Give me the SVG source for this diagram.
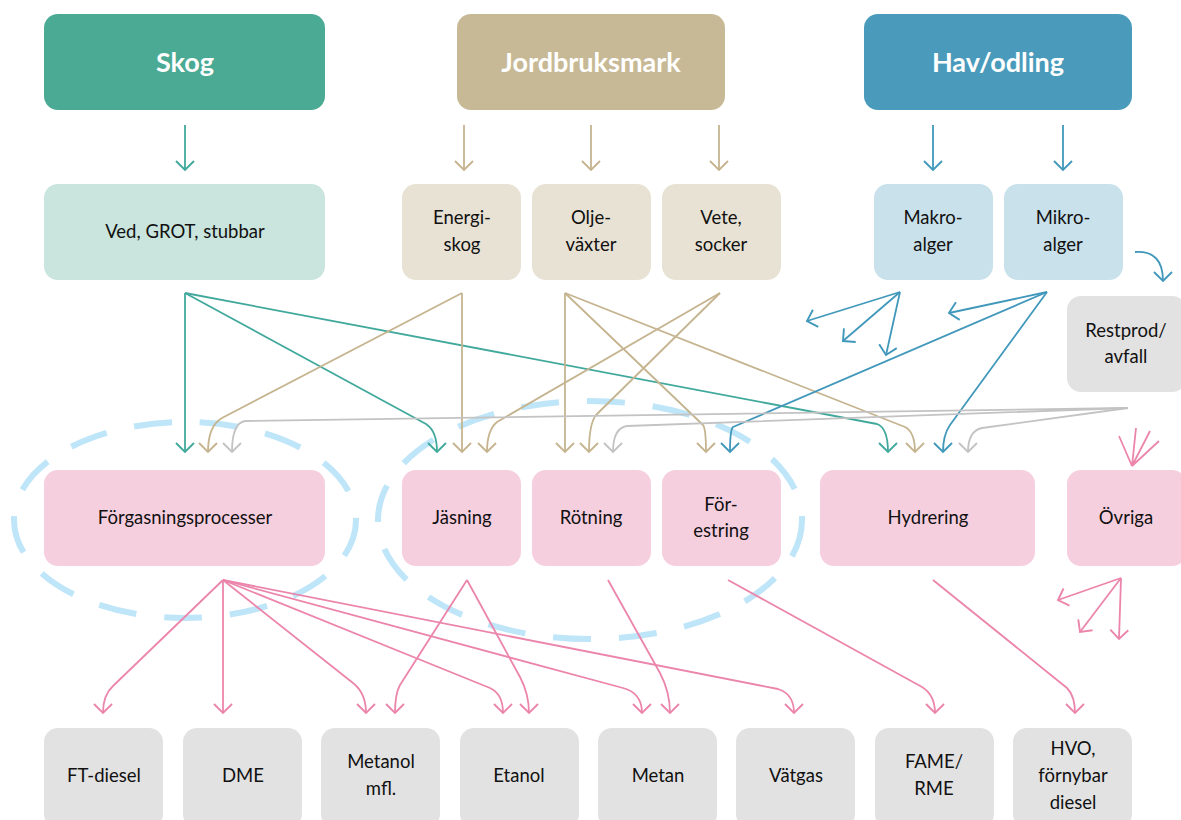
<svg xmlns="http://www.w3.org/2000/svg" width="1181" height="820" viewBox="0 0 1181 820">
<style>
text{font-family:Lato,"Open Sans","Liberation Sans",sans-serif;text-anchor:middle;fill:#111;font-size:18.5px}
.t{font-weight:bold;font-size:27px;fill:#fff}
.c{fill:none;stroke-width:1.8;stroke-linejoin:round}
.teal{stroke:#41a99c}.tan{stroke:#c5b48f}.blue{stroke:#4198bb}.gray{stroke:#c3c3c3}.pink{stroke:#ec85ab}
.ell{fill:none;stroke:#bfe5f9;stroke-width:6;stroke-dasharray:38 28}
</style>
<defs>
<marker id="mTeal" markerUnits="userSpaceOnUse" markerWidth="24" markerHeight="24" refX="0" refY="0" viewBox="-12 -12 24 24" orient="auto"><path d="M-9,-9L0,0L-9,9" fill="none" stroke="#41a99c" stroke-width="1.9"/></marker>
<marker id="mTan" markerUnits="userSpaceOnUse" markerWidth="24" markerHeight="24" refX="0" refY="0" viewBox="-12 -12 24 24" orient="auto"><path d="M-9,-9L0,0L-9,9" fill="none" stroke="#c5b48f" stroke-width="1.9"/></marker>
<marker id="mBlue" markerUnits="userSpaceOnUse" markerWidth="24" markerHeight="24" refX="0" refY="0" viewBox="-12 -12 24 24" orient="auto"><path d="M-9,-9L0,0L-9,9" fill="none" stroke="#4198bb" stroke-width="1.9"/></marker>
<marker id="mGray" markerUnits="userSpaceOnUse" markerWidth="24" markerHeight="24" refX="0" refY="0" viewBox="-12 -12 24 24" orient="auto"><path d="M-9,-9L0,0L-9,9" fill="none" stroke="#c3c3c3" stroke-width="1.9"/></marker>
<marker id="mPink" markerUnits="userSpaceOnUse" markerWidth="24" markerHeight="24" refX="0" refY="0" viewBox="-12 -12 24 24" orient="auto"><path d="M-9,-9L0,0L-9,9" fill="none" stroke="#ec85ab" stroke-width="1.9"/></marker>
</defs>
<rect width="1181" height="820" fill="#fff"/>
<g id="groups">
<ellipse class="ell" cx="185" cy="520" rx="171" ry="98"/>
<ellipse class="ell" cx="590" cy="520" rx="212" ry="119"/>
</g>
<g id="skog"><rect x="44" y="14" width="281" height="96" rx="14" fill="#4baa93"/><text class="t" x="185" y="72">Skog</text></g>
<g id="jordbruksmark"><rect x="457" y="14" width="268" height="96" rx="14" fill="#c7b995"/><text class="t" x="591" y="72">Jordbruksmark</text></g>
<g id="havodling"><rect x="864" y="14" width="268" height="96" rx="14" fill="#4a9bbb"/><text class="t" x="998" y="72">Hav/odling</text></g>
<g id="ved"><rect x="44" y="184" width="281" height="96" rx="14" fill="#c9e5dd"/><text x="185" y="238">Ved, GROT, stubbar</text></g>
<g id="energiskog"><rect x="402" y="184" width="119" height="96" rx="14" fill="#e8e2d5"/><text x="462" y="224">Energi-</text><text x="462" y="251">skog</text></g>
<g id="oljevaxter"><rect x="532" y="184" width="119" height="96" rx="14" fill="#e8e2d5"/><text x="591" y="224">Olje-</text><text x="591" y="251">växter</text></g>
<g id="vete"><rect x="662" y="184" width="119" height="96" rx="14" fill="#e8e2d5"/><text x="721" y="224">Vete,</text><text x="721" y="251">socker</text></g>
<g id="makroalger"><rect x="874" y="184" width="119" height="96" rx="14" fill="#c9e1eb"/><text x="933" y="224">Makro-</text><text x="933" y="251">alger</text></g>
<g id="mikroalger"><rect x="1004" y="184" width="119" height="96" rx="14" fill="#c9e1eb"/><text x="1063" y="224">Mikro-</text><text x="1063" y="251">alger</text></g>
<g id="restprod"><rect x="1067" y="296" width="119" height="96" rx="14" fill="#e2e2e2"/><text x="1126" y="337">Restprod/</text><text x="1126" y="363">avfall</text></g>
<g id="forgasning"><rect x="44" y="470" width="281" height="96" rx="14" fill="#f6cfdf"/><text x="185" y="524">Förgasningsprocesser</text></g>
<g id="jasning"><rect x="402" y="470" width="119" height="96" rx="14" fill="#f6cfdf"/><text x="462" y="524">Jäsning</text></g>
<g id="rotning"><rect x="532" y="470" width="119" height="96" rx="14" fill="#f6cfdf"/><text x="591" y="524">Rötning</text></g>
<g id="forestring"><rect x="662" y="470" width="119" height="96" rx="14" fill="#f6cfdf"/><text x="721" y="511">För-</text><text x="721" y="537">estring</text></g>
<g id="hydrering"><rect x="820" y="470" width="215" height="96" rx="14" fill="#f6cfdf"/><text x="928" y="524">Hydrering</text></g>
<g id="ovriga"><rect x="1067" y="470" width="119" height="96" rx="14" fill="#f6cfdf"/><text x="1126" y="524">Övriga</text></g>
<g id="ftdiesel"><rect x="44" y="728" width="119" height="100" rx="14" fill="#e2e2e2"/><text x="104" y="782">FT-diesel</text></g>
<g id="dme"><rect x="183" y="728" width="119" height="100" rx="14" fill="#e2e2e2"/><text x="243" y="782">DME</text></g>
<g id="metanol"><rect x="321" y="728" width="119" height="100" rx="14" fill="#e2e2e2"/><text x="381" y="768">Metanol</text><text x="381" y="795">mfl.</text></g>
<g id="etanol"><rect x="460" y="728" width="119" height="100" rx="14" fill="#e2e2e2"/><text x="519" y="782">Etanol</text></g>
<g id="metan"><rect x="598" y="728" width="119" height="100" rx="14" fill="#e2e2e2"/><text x="658" y="782">Metan</text></g>
<g id="vatgas"><rect x="736" y="728" width="119" height="100" rx="14" fill="#e2e2e2"/><text x="796" y="782">Vätgas</text></g>
<g id="fame"><rect x="875" y="728" width="119" height="100" rx="14" fill="#e2e2e2"/><text x="934" y="768">FAME/</text><text x="934" y="795">RME</text></g>
<g id="hvo"><rect x="1013" y="728" width="119" height="100" rx="14" fill="#e2e2e2"/><text x="1073" y="755">HVO,</text><text x="1073" y="782">förnybar</text><text x="1073" y="809">diesel</text></g>
<g id="connectors">
<g class="c teal" marker-end="url(#mTeal)">
<path d="M185,125V170"/>
<path d="M185,293V452"/>
<path d="M185,293L426,424Q437,431 437,452"/>
<path d="M185,293L877,424Q888,428 888,452"/>
</g>
<g class="c tan" marker-end="url(#mTan)">
<path d="M464,125V170"/>
<path d="M591,125V170"/>
<path d="M719,125V170"/>
<path d="M462,293L222,418Q208,426 208,452"/>
<path d="M462,293V452"/>
<path d="M565,293V452"/>
<path d="M565,293L703,425Q706,429 706,452"/>
<path d="M565,293L905,427Q915,432 915,452"/>
<path d="M720,293L497,422Q487,430 487,452"/>
<path d="M720,293L596,415Q589,424 589,452"/>
</g>
<g class="c blue" marker-end="url(#mBlue)">
<path d="M933,125V170"/>
<path d="M1063,125V170"/>
<path d="M900,292L807,321"/>
<path d="M900,292L843,341"/>
<path d="M900,292L886,355"/>
<path d="M1047,292L949,313"/>
<path d="M1047,292L733,427Q730,430 730,452"/>
<path d="M1047,292L950,425Q943,435 943,452"/>
<path d="M1135,252Q1163,250 1163,281"/>
</g>
<g class="c gray" marker-end="url(#mGray)">
<path d="M1128,408L245,421Q232,423 232,452"/>
<path d="M1128,408L627,426Q613,428 613,452"/>
<path d="M1128,408L982,428Q968,431 968,452"/>
</g>
<g class="c pink">
<path d="M1119,436L1132,466M1136,428L1132,466M1150,431L1132,466M1159,441L1132,466"/>
</g>
<g class="c pink" marker-end="url(#mPink)">
<path d="M223,580L113,686Q103,695 103,713"/>
<path d="M223,580V713"/>
<path d="M223,580L353,683Q366,693 366,713"/>
<path d="M223,580L490,688Q503,694 503,713"/>
<path d="M223,580L623,688Q642,693 642,713"/>
<path d="M223,580L778,689Q794,694 794,713"/>
<path d="M467,580L400,685Q395,694 395,713"/>
<path d="M467,580L520,677Q529,694 529,713"/>
<path d="M608,580L660,673Q670,692 670,713"/>
<path d="M728,580L922,687Q935,695 935,713"/>
<path d="M933,580L1067,688Q1075,696 1075,713"/>
<path d="M1121,578L1058,600"/>
<path d="M1121,578L1080,632"/>
<path d="M1121,578L1119,639"/>
</g>
</g>
</svg>
